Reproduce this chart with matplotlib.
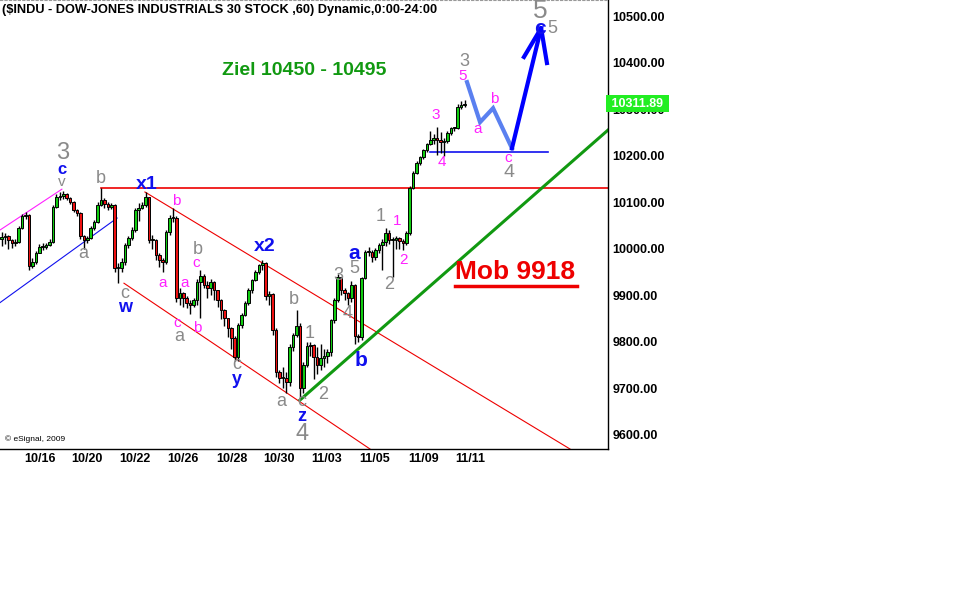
import matplotlib
matplotlib.use("Agg")
import matplotlib.pyplot as plt
import numpy as np

plt.rcParams['font.family'] = ['Liberation Sans', 'DejaVu Sans']

# hourly bars
closes = [10025, 10028, 10019, 10012, 10015, 10045, 10070, 10072, 9963, 9972,
          9991, 10004, 10004, 10008, 10015, 10090, 10111, 10113, 10118, 10109,
          10101, 10083, 10077, 10028, 10019, 10023, 10045, 10058, 10094, 10105,
          10096, 10090, 10094, 9959, 9959, 9972, 10008, 10023, 10040, 10083,
          10088, 10094, 10111, 10019, 10019, 9987, 9976, 9972, 10036, 10066,
          10066, 9894, 9905, 9894, 9884, 9879, 9890, 9929, 9942, 9922,
          9916, 9929, 9911, 9890, 9868, 9851, 9830, 9808, 9768, 9836,
          9858, 9884, 9911, 9933, 9950, 9965, 9970, 9899, 9903, 9826,
          9735, 9722, 9722, 9714, 9789, 9815, 9834, 9701, 9750, 9791,
          9793, 9768, 9750, 9765, 9770, 9778, 9847, 9890, 9939, 9911,
          9905, 9894, 9922, 9813, 9811, 9937, 9993, 9993, 9982, 9997,
          10008, 10015, 10034, 10019, 10019, 10023, 10017, 10012, 10034, 10131,
          10163, 10184, 10197, 10212, 10225, 10234, 10238, 10234, 10229, 10232,
          10249, 10259, 10259, 10305, 10308, 10312]
opens = [10020, 10025, 10028, 10019, 10012, 10015, 10045, 10070, 10072, 9963,
         9972, 9991, 10004, 10004, 10008, 10015, 10090, 10111, 10113, 10118,
         10109, 10101, 10083, 10077, 10028, 10019, 10023, 10045, 10058, 10094,
         10105, 10096, 10090, 10094, 9959, 9959, 9972, 10008, 10023, 10040,
         10083, 10088, 10094, 10111, 10019, 10019, 9987, 9976, 9972, 10036,
         10066, 10066, 9894, 9905, 9894, 9884, 9879, 9890, 9929, 9942,
         9922, 9916, 9929, 9911, 9890, 9868, 9851, 9830, 9808, 9768,
         9836, 9858, 9884, 9911, 9933, 9950, 9965, 9970, 9899, 9903,
         9826, 9735, 9722, 9722, 9714, 9789, 9815, 9834, 9701, 9750,
         9791, 9793, 9768, 9750, 9765, 9770, 9778, 9847, 9890, 9939,
         9911, 9905, 9894, 9922, 9813, 9811, 9937, 9993, 9993, 9982,
         9997, 10008, 10015, 10034, 10019, 10019, 10023, 10017, 10012, 10034,
         10131, 10163, 10184, 10197, 10212, 10225, 10234, 10238, 10234, 10229,
         10232, 10249, 10259, 10259, 10305, 10308]
highs = [10035, 10034, 10030, 10020, 10020, 10050, 10075, 10078, 10074, 9980,
         9996, 10010, 10012, 10012, 10020, 10094, 10118, 10122, 10124, 10120,
         10112, 10102, 10086, 10080, 10030, 10028, 10050, 10062, 10100, 10131,
         10110, 10100, 10098, 10096, 9970, 9980, 10012, 10028, 10046, 10088,
         10098, 10100, 10122, 10112, 10030, 10022, 9990, 9980, 10040, 10072,
         10088, 10070, 9915, 9908, 9898, 9890, 9895, 9935, 9955, 9945,
         9930, 9935, 9930, 9912, 9892, 9870, 9852, 9832, 9812, 9840,
         9862, 9888, 9915, 9936, 9955, 9968, 9975, 9972, 9910, 9906,
         9830, 9740, 9745, 9735, 9795, 9820, 9868, 9840, 9756, 9800,
         9800, 9796, 9790, 9795, 9785, 9785, 9850, 9895, 9945, 9940,
         9915, 9908, 9930, 9925, 9818, 9940, 9998, 10003, 9998, 10002,
         10012, 10020, 10045, 10040, 10025, 10028, 10025, 10020, 10038, 10135,
         10166, 10188, 10200, 10215, 10228, 10252, 10246, 10262, 10250, 10238,
         10252, 10262, 10262, 10310, 10318, 10320]
lows = [10005, 10010, 10000, 10002, 10005, 10012, 10042, 10065, 9955, 9958,
        9968, 9990, 9998, 10000, 10005, 10012, 10088, 10105, 10108, 10104,
        10096, 10078, 10070, 10022, 10000, 10012, 10020, 10040, 10055, 10092,
        10088, 10084, 10086, 9950, 9927, 9950, 9965, 10002, 10018, 10035,
        10060, 10085, 10090, 10012, 10000, 9975, 9960, 9950, 9968, 10030,
        10058, 9885, 9880, 9875, 9872, 9860, 9875, 9880, 9851, 9915,
        9895, 9900, 9890, 9875, 9850, 9835, 9810, 9785, 9760, 9760,
        9830, 9855, 9880, 9905, 9930, 9945, 9955, 9890, 9880, 9815,
        9725, 9712, 9700, 9690, 9705, 9780, 9810, 9680, 9690, 9745,
        9770, 9720, 9730, 9740, 9745, 9755, 9770, 9840, 9885, 9900,
        9890, 9880, 9885, 9795, 9800, 9805, 9935, 9985, 9972, 9975,
        9990, 9955, 10005, 10010, 9940, 10000, 10000, 9998, 10008, 10030,
        10128, 10160, 10180, 10192, 10208, 10222, 10225, 10202, 10205, 10200,
        10228, 10245, 10252, 10258, 10300, 10305]

date_labels = ['10/16', '10/20', '10/22', '10/26', '10/28', '10/30', '11/03', '11/05', '11/09', '11/11']
date_bars = [11.2, 24.9, 38.9, 52.9, 67.2, 80.9, 94.9, 108.9, 122.9, 136.6]
price_ticks = [9600, 9700, 9800, 9900, 10000, 10100, 10200, 10300, 10400, 10500]
last_price = 10311.89

GRAY = '#8a8a8a'
BLUE = '#1010ee'
MAG = '#ff20ff'

# wave labels: (bar, price, text, colour, size, bold)
waves = [
    (17.9, 10206, '3', GRAY, 17, False), (17.6, 10170, 'c', BLUE, 12, True),
    (17.6, 10143, 'v', GRAY, 11, False), (29.0, 10150, 'b', GRAY, 13, False),
    (42.4, 10139, 'x1', BLUE, 14, True), (50.9, 10103, 'b', MAG, 11, False),
    (23.8, 9989, 'a', GRAY, 13, False), (36.0, 9903, 'c', GRAY, 13, False),
    (36.0, 9873, 'w', BLUE, 13, True), (57.3, 9999, 'b', GRAY, 13, False),
    (56.7, 9969, 'c', MAG, 11, False), (53.5, 9926, 'a', MAG, 11, False),
    (47.1, 9926, 'a', MAG, 11, False), (51.2, 9841, 'c', MAG, 11, False),
    (57.0, 9830, 'b', MAG, 11, False), (51.7, 9811, 'a', GRAY, 13, False),
    (76.8, 10004, 'x2', BLUE, 14, True), (68.7, 9752, 'c', GRAY, 13, False),
    (68.7, 9720, 'y', BLUE, 13, True), (85.3, 9892, 'b', GRAY, 13, False),
    (89.7, 9819, '1', GRAY, 13, False), (81.5, 9673, 'a', GRAY, 13, False),
    (87.6, 9671, 'c', GRAY, 13, False), (87.6, 9639, 'z', BLUE, 13, True),
    (87.6, 9602, '4', GRAY, 17, False), (93.7, 9686, '2', GRAY, 13, False),
    (98.1, 9942, '3', GRAY, 13, False), (102.8, 9957, '5', GRAY, 13, False),
    (102.8, 9990, 'a', BLUE, 15, True), (101.0, 9862, '4', GRAY, 13, False),
    (104.8, 9759, 'b', BLUE, 15, True), (110.4, 10070, '1', GRAY, 13, False),
    (115.3, 10060, '1', MAG, 11, False), (117.1, 9976, '2', MAG, 11, False),
    (113.0, 9924, '2', GRAY, 13, False), (126.7, 10287, '3', MAG, 11, False),
    (128.4, 10186, '4', MAG, 11, False), (134.8, 10403, '3', GRAY, 13, False),
    (134.5, 10371, '5', MAG, 11, False), (138.9, 10257, 'a', MAG, 11, False),
    (143.6, 10322, 'b', MAG, 11, False), (147.7, 10195, 'c', MAG, 11, False),
    (148.0, 10164, '4', GRAY, 14, False), (157.0, 10511, '5', GRAY, 19, False),
    (157.0, 10474, 'c', BLUE, 15, True), (160.6, 10474, '5', GRAY, 13, False),
]

# projection path after wave 3 (a-b-c) and final leg to the target
proj_bars = [135.7, 139.5, 143.3, 148.8]
proj_prices = [10358, 10272, 10302, 10216]
arrow_bars = [148.8, 157.3]
arrow_prices = [10216, 10474]

fig = plt.figure(figsize=(9.6, 6), dpi=100)
ax = fig.add_axes([0, 1 - 449 / 600, 608 / 960, 449 / 600])
ax.set_xlim(-0.44, 176.8)
ax.set_ylim(9569.9, 10534.4)

idx = np.arange(len(closes))
o = np.array(opens, float)
c = np.array(closes, float)
ax.vlines(idx, lows, highs, color='black', lw=1, zorder=3)
up = c >= o
body = np.where(np.abs(c - o) < 2, 2, c - o)
ax.bar(idx, body, bottom=o, width=0.75,
       color=np.where(up, '#11cc11', '#ee1111'), edgecolor='black', lw=0.7, zorder=4)

# channel / trend lines
ax.plot([-0.5, 17.6], [10040, 10128], color=MAG, lw=0.8, zorder=2)
ax.plot([-0.5, 33.7], [9884, 10066], color=BLUE, lw=0.8, zorder=2)
ax.plot([29.0, 177], [10130, 10130], color='#ee0000', lw=1.2, zorder=2)
ax.plot([41.8, 165.7], [10122, 9570], color='#ee0000', lw=0.8, zorder=2)
ax.plot([35.7, 107.4], [9926, 9570], color='#ee0000', lw=0.8, zorder=2)
ax.plot([87.0, 176.8], [9675, 10255], color='#119911', lw=2.2, zorder=2)
ax.plot([124.9, 159.3], [10208, 10208], color=BLUE, lw=1.2, zorder=2)

ax.plot(proj_bars, proj_prices, color='#5a80f0', lw=3, solid_joinstyle='miter', zorder=5)
ax.plot(arrow_bars, arrow_prices, color='#0000ff', lw=3, zorder=5)
ax.plot([152.3, 157.3, 159.0], [10412, 10474, 10399], color='#0000ff', lw=3, zorder=5)

for bx, py, t, col, sz, b in waves:
    ax.text(bx, py, t, color=col, fontsize=sz, ha='center', va='center',
            fontweight='bold' if b else 'normal', zorder=6)

ax.text(88.2, 10384, 'Ziel 10450 - 10495', color='#119911', fontsize=14,
        fontweight='bold', ha='center', va='center')
ax.text(149.7, 9950, 'Mob 9918', color='#ee0000', fontsize=19,
        fontweight='bold', ha='center', va='center')
ax.plot([455 / 608, 577 / 608], [(449 - 286) / 449] * 2, transform=ax.transAxes,
        color='#ee0000', lw=2.5)

ax.text(0.008, 0.018, '\u00a9 eSignal, 2009', transform=ax.transAxes, fontsize=6, color='black')

# axes styling
ax.yaxis.tick_right()
ax.set_yticks(price_ticks)
ax.set_yticklabels(['%.2f' % p for p in price_ticks], fontweight='bold', fontsize=9)
ax.set_xticks(date_bars)
ax.set_xticklabels(date_labels, fontweight='bold', fontsize=9)
ax.tick_params(length=0, pad=3)
ax.spines['left'].set_visible(False)
ax.spines['top'].set_color('#999999')
ax.spines['top'].set_linestyle((0, (2, 2)))
ax.spines['right'].set_linewidth(1)
ax.spines['bottom'].set_linewidth(1)

ax.text(1.0, last_price, ' %.2f ' % last_price, transform=ax.get_yaxis_transform(),
        color='white', fontweight='bold', fontsize=9, va='center', ha='left', zorder=7,
        bbox=dict(boxstyle='square,pad=0.2', facecolor='#22ee22', edgecolor='none'))

fig.text(2 / 960, 1 - 10 / 600, '($INDU - DOW-JONES INDUSTRIALS 30 STOCK ,60) Dynamic,0:00-24:00',
         fontsize=9.2, fontweight='bold', va='center', ha='left')

fig.savefig('out.png', dpi=100)
